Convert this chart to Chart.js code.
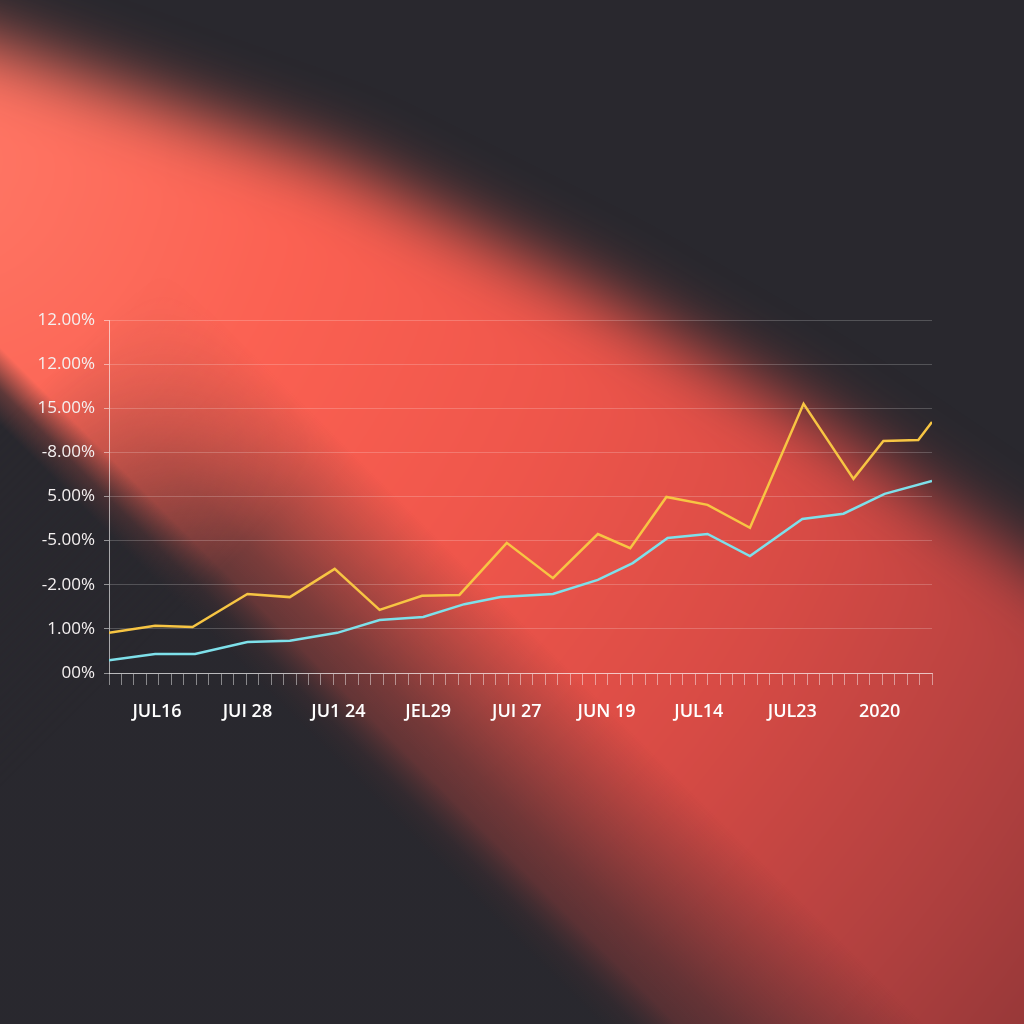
<!DOCTYPE html>
<html>
<head>
<meta charset="utf-8">
<script src="https://cdn.jsdelivr.net/npm/chart.js@4"></script>
<style>
  html, body { margin: 0; padding: 0; background: #29282e; }
  #wrap { width: 1024px; height: 1024px; }
</style>
</head>
<body>
<div id="wrap"><canvas id="chart" width="1024" height="1024"></canvas></div>
<script>
// x positions are in tick steps (66 small ticks along the axis)
const goldX = [0, 3.7, 6.7, 11.1, 14.5, 18.1, 21.7, 25.1, 28.1, 31.9, 35.6, 39.2, 41.8, 44.7, 48.0, 51.4, 55.7, 59.7, 62.1, 64.9, 66];
const goldY = [0.91, 1.07, 1.04, 1.79, 1.72, 2.36, 1.43, 1.75, 1.77, 2.95, 2.15, 3.15, 2.83, 3.99, 3.81, 3.29, 6.10, 4.40, 5.26, 5.28, 5.69];

const cyanX = [0, 3.7, 6.9, 11.1, 14.5, 18.3, 21.7, 25.2, 28.5, 31.4, 35.6, 39.2, 42.0, 44.8, 48.0, 51.4, 55.6, 58.9, 62.2, 66];
const cyanY = [0.29, 0.43, 0.43, 0.70, 0.73, 0.91, 1.20, 1.27, 1.56, 1.72, 1.79, 2.11, 2.49, 3.06, 3.15, 2.65, 3.49, 3.61, 4.06, 4.35];

const yTickLabels = ['00%', '1.00%', '-2.00%', '-5.00%', '5.00%', '-8.00%', '15.00%', '12.00%', '12.00%'];
const xTickLabels = ['JUL16', 'JUI 28', 'JU1 24', 'JEL29', 'JUI 27', 'JUN 19', 'JUL14', 'JUL23', '2020'];
const xLabelAt = [3.85, 11.1, 18.4, 25.6, 32.7, 39.9, 47.3, 54.8, 61.8];
const xTickCount = 66;

const toPoints = (xs, ys) => xs.map((x, i) => ({ x: x, y: ys[i] }));

const BG = '41,40,46';
const SHADE_Y0 = 425;  // shadow line y = 425 + x

// gradient running across the shadow line
function shadeGradient(ctx, len, stops) {
  const k = 0.7071;
  const g = ctx.createLinearGradient(0, SHADE_Y0, k * len, SHADE_Y0 - k * len);
  stops.forEach(([t, a]) => g.addColorStop(t, `rgba(${BG},${a})`));
  return g;
}

// red light beam behind the chart
const beam = {
  id: 'beam',
  beforeDraw(chart) {
    const { ctx, width, height } = chart;
    ctx.save();
    ctx.fillStyle = `rgb(${BG})`;
    ctx.fillRect(0, 0, width, height);

    const grad = ctx.createRadialGradient(-60, 160, 0, -60, 160, 1450);
    grad.addColorStop(0, '#ff7866');
    grad.addColorStop(0.25, '#fb6152');
    grad.addColorStop(0.45, '#ef564b');
    grad.addColorStop(0.65, '#d84b45');
    grad.addColorStop(0.85, '#b0403f');
    grad.addColorStop(1, '#8e3536');
    ctx.fillStyle = grad;

    // beam body, top edge bends down to the right
    ctx.filter = 'blur(34px)';
    ctx.beginPath();
    ctx.moveTo(-700, -200);
    ctx.lineTo(0, 45);
    ctx.lineTo(340, 165);
    ctx.lineTo(600, 295);
    ctx.lineTo(800, 410);
    ctx.lineTo(1024, 560);
    ctx.lineTo(1300, 760);
    ctx.lineTo(1300, 2200);
    ctx.lineTo(-700, 700);
    ctx.closePath();
    ctx.fill();
    ctx.filter = 'none';

    // crisp shadow edge on the lower-left
    ctx.fillStyle = shadeGradient(ctx, 55, [[0, 1], [0.45, 0.75], [1, 0]]);
    ctx.fillRect(0, 0, width, height);

    // wide penumbra, faded out near the left border
    const off = document.createElement('canvas');
    off.width = width; off.height = height;
    const o = off.getContext('2d');
    o.fillStyle = shadeGradient(o, 230, [[0, 0.85], [0.17, 0.75], [0.39, 0.6], [0.61, 0.38], [1, 0]]);
    o.fillRect(0, 0, width, height);
    o.globalCompositeOperation = 'destination-in';
    const mask = o.createLinearGradient(0, SHADE_Y0, 0.7071 * 260, SHADE_Y0 + 0.7071 * 260);
    mask.addColorStop(0, 'rgba(0,0,0,0)');
    mask.addColorStop(1, 'rgba(0,0,0,1)');
    o.fillStyle = mask;
    o.fillRect(0, 0, width, height);
    ctx.drawImage(off, 0, 0);
    ctx.restore();
  }
};

new Chart(document.getElementById('chart'), {
  type: 'line',
  data: {
    datasets: [
      {
        label: 'A',
        data: toPoints(goldX, goldY),
        borderColor: '#f7c543',
        borderWidth: 2.5,
        pointRadius: 0,
        tension: 0
      },
      {
        label: 'B',
        data: toPoints(cyanX, cyanY),
        borderColor: '#7ee0ea',
        borderWidth: 2.5,
        pointRadius: 0,
        tension: 0
      }
    ]
  },
  options: {
    responsive: false,
    animation: false,
    layout: { padding: { top: 320, right: 92, bottom: 279, left: 0 } },
    plugins: { legend: { display: false }, tooltip: { enabled: false } },
    scales: {
      x: {
        type: 'linear',
        min: 0,
        max: xTickCount,
        weight: 0,
        ticks: { display: false, stepSize: 1 },
        grid: { drawOnChartArea: false, tickLength: 12, color: 'rgba(255,255,255,0.45)' },
        border: { color: 'rgba(255,255,255,0.6)' },
        afterFit: s => { s.height = 12; }
      },
      xl: {
        type: 'linear',
        position: 'bottom',
        min: 0,
        max: xTickCount,
        weight: 1,
        grid: { display: false, drawTicks: false },
        border: { display: false },
        afterBuildTicks: s => { s.ticks = xLabelAt.map(v => ({ value: v })); },
        ticks: {
          autoSkip: false,
          maxRotation: 0,
          padding: 16,
          color: '#ffffff',
          font: { family: 'Open Sans', size: 18, weight: '600' },
          callback: (v, i) => xTickLabels[i]
        },
        afterFit: s => { s.height = 60; }
      },
      y: {
        min: 0,
        max: 8,
        ticks: {
          stepSize: 1,
          padding: 9,
          color: '#f4f0f0',
          font: { family: 'Open Sans', size: 17, weight: '500' },
          callback: v => yTickLabels[v]
        },
        grid: { color: 'rgba(255,255,255,0.2)', tickColor: 'rgba(255,255,255,0.5)', tickLength: 5 },
        border: { color: 'rgba(255,255,255,0.6)' },
        afterFit: s => { s.width = 109; }
      }
    }
  },
  plugins: [beam]
});
</script>
</body>
</html>
